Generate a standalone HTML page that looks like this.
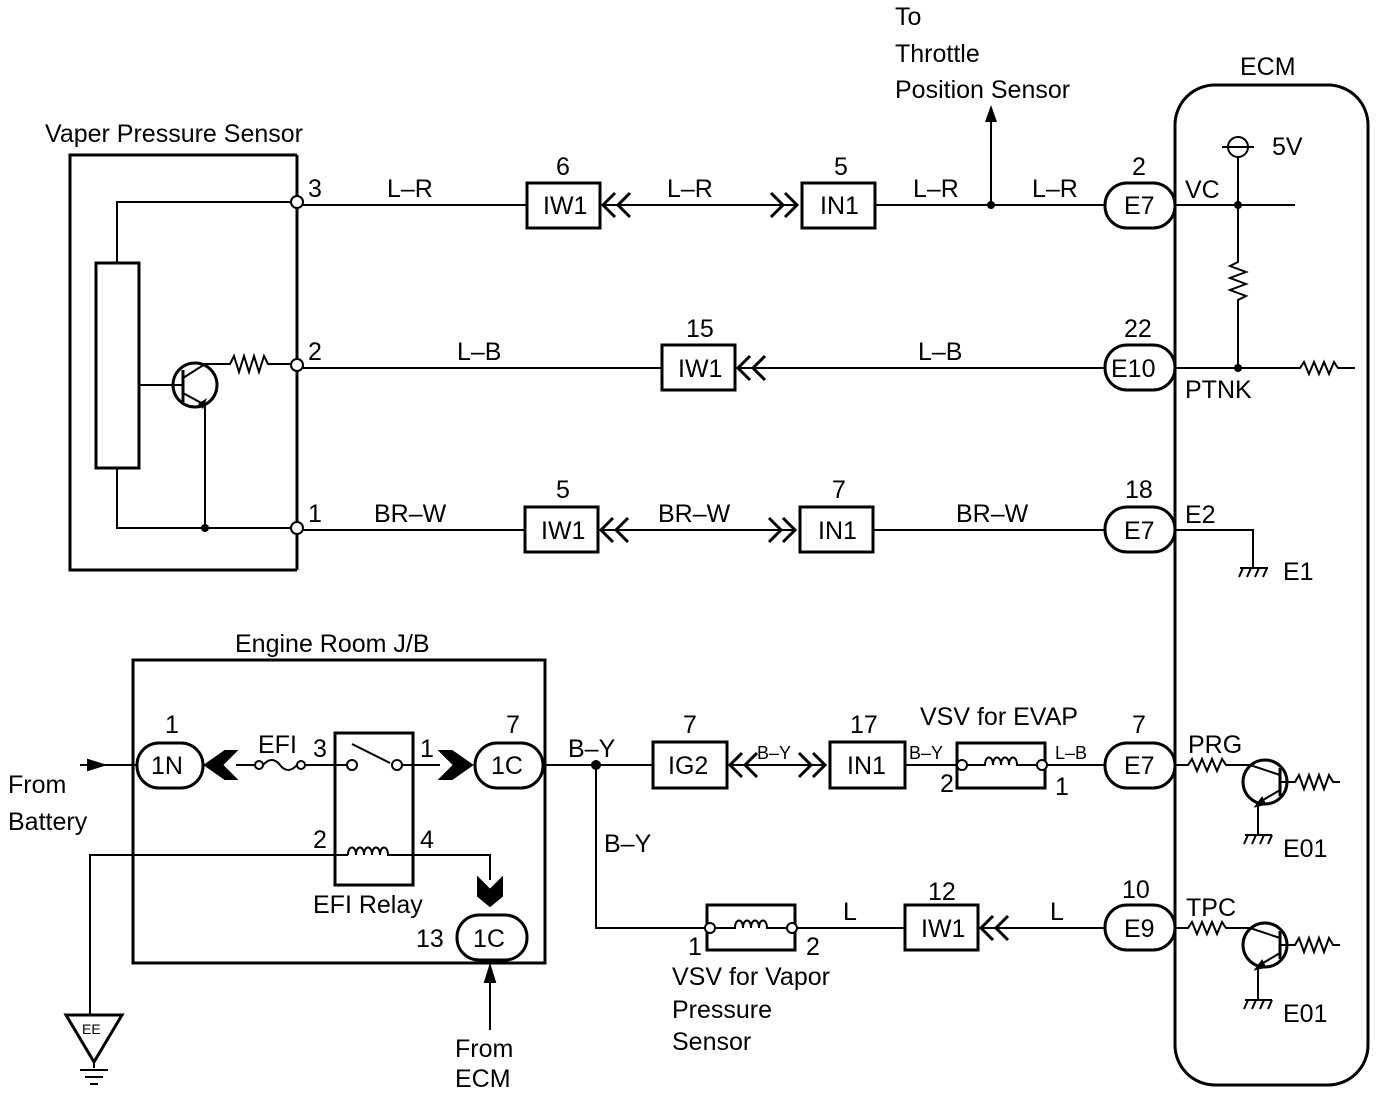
<!DOCTYPE html>
<html><head><meta charset="utf-8"><style>
html,body{margin:0;padding:0;background:#fff}
svg{display:block}
text{font-family:"Liberation Sans",Arial,sans-serif;font-size:25px;fill:#000}
</style></head><body>
<svg width="1392" height="1096" viewBox="0 0 1392 1096" xmlns="http://www.w3.org/2000/svg">
<g fill="none" stroke="#000" stroke-width="2">
<path d="M297,155 H70 V570 H297" stroke-width="3"/>
<line x1="297" y1="155" x2="297" y2="570" stroke-width="3"/>
<path d="M291,202 H117 V263"/>
<rect x="96" y="263" width="43" height="205" stroke-width="3"/>
<path d="M117,468 V528 H291"/>
<circle cx="195" cy="385" r="22" stroke-width="3"/>
<line x1="139" y1="385" x2="183" y2="385"/>
<line x1="183" y1="370" x2="183" y2="402" stroke-width="3"/>
<path d="M183,378 L205,364 H230 l4,-8 5,16 5,-16 5,16 5,-16 5,16 5,-16 4,8 H291"/>
<path d="M183,393 L205,405 V528"/>
<circle cx="297" cy="202" r="6" fill="#fff"/>
<circle cx="297" cy="365" r="6" fill="#fff"/>
<circle cx="297" cy="528" r="6" fill="#fff"/>
<line x1="303" y1="205" x2="527" y2="205"/>
<rect x="527" y="183" width="73" height="45" stroke-width="3"/>
<path d="M615,193 L603,205 L615,217 M630,193 L618,205 L630,217" stroke-width="3"/>
<line x1="603" y1="205" x2="798" y2="205"/>
<path d="M785,193 L797,205 L785,217 M771,193 L783,205 L771,217" stroke-width="3"/>
<rect x="802" y="183" width="73" height="45" stroke-width="3"/>
<line x1="875" y1="205" x2="1105" y2="205"/>
<line x1="991" y1="205" x2="991" y2="115"/>
<rect x="1105" y="183" width="70" height="45" rx="22" stroke-width="3"/>

<line x1="303" y1="368" x2="662" y2="368"/>
<rect x="662" y="345" width="73" height="45" stroke-width="3"/>
<path d="M750,356 L738,368 L750,380 M765,356 L753,368 L765,380" stroke-width="3"/>
<line x1="738" y1="368" x2="1105" y2="368"/>
<rect x="1105" y="345" width="70" height="45" rx="22" stroke-width="3"/>

<line x1="303" y1="530" x2="525" y2="530"/>
<rect x="525" y="507" width="73" height="45" stroke-width="3"/>
<path d="M613,518 L601,530 L613,542 M628,518 L616,530 L628,542" stroke-width="3"/>
<line x1="601" y1="530" x2="796" y2="530"/>
<path d="M783,518 L795,530 L783,542 M769,518 L781,530 L769,542" stroke-width="3"/>
<rect x="800" y="507" width="73" height="45" stroke-width="3"/>
<line x1="873" y1="530" x2="1105" y2="530"/>
<rect x="1105" y="507" width="70" height="45" rx="22" stroke-width="3"/>

<rect x="1175" y="85" width="193" height="1000" rx="40" stroke-width="3"/>
<line x1="1175" y1="205" x2="1295" y2="205"/>
<circle cx="1238" cy="147" r="10"/>
<line x1="1222" y1="147" x2="1254" y2="147"/>
<path d="M1238,157 V262 l-8,4 16,6 -16,6 16,6 -16,6 16,6 -8,4 V368"/>
<path d="M1175,368 H1300 l4,-6 5,12 5,-12 5,12 5,-12 5,12 5,-12 4,6 H1355"/>
<path d="M1175,530 H1253 V568"/>
<path d="M1240,568 H1268 M1243,568 l-4,9 M1251,568 l-4,9 M1259,568 l-4,9 M1267,568 l-4,9"/>

<rect x="133" y="660" width="412" height="303" stroke-width="3"/>
<line x1="80" y1="765" x2="137" y2="765"/>
<path d="M88,760 L104,765 L88,770 Z" fill="#000"/>
<rect x="137" y="743" width="66" height="45" rx="22" stroke-width="3"/>
<path d="M205,765 L225,751 H236 L222,765 L236,779 H225 Z" fill="#000"/>
<line x1="236" y1="765" x2="255" y2="765"/>
<circle cx="259" cy="765" r="4"/><circle cx="301" cy="765" r="4"/>
<path d="M263,765 Q272,755 280,765 Q288,775 297,765"/>
<line x1="305" y1="765" x2="348" y2="765"/>
<rect x="335" y="733" width="78" height="152" stroke-width="3"/>
<circle cx="352" cy="765" r="5"/><circle cx="397" cy="765" r="5"/>
<line x1="352" y1="744" x2="390" y2="763"/>
<line x1="402" y1="765" x2="440" y2="765"/>
<path d="M440,751 H452 L472,765 L452,779 H440 L454,765 Z" fill="#000"/>
<rect x="475" y="743" width="68" height="45" rx="22" stroke-width="3"/>
<line x1="543" y1="765" x2="653" y2="765"/>
<circle cx="596" cy="765" r="4" fill="#000"/>
<rect x="653" y="742" width="74" height="46" stroke-width="3"/>
<path d="M742,753 L730,765 L742,777 M757,753 L745,765 L757,777" stroke-width="3"/>
<line x1="730" y1="765" x2="826" y2="765"/>
<path d="M813,753 L825,765 L813,777 M799,753 L811,765 L799,777" stroke-width="3"/>
<rect x="830" y="742" width="75" height="46" stroke-width="3"/>
<line x1="905" y1="765" x2="956" y2="765"/>
<rect x="957" y="743" width="88" height="45" stroke-width="3"/>
<circle cx="962" cy="765" r="5" fill="#fff"/><circle cx="1042" cy="765" r="5" fill="#fff"/>
<path d="M967,765 H985 c0,-10 8,-10 8,0 c0,-10 8,-10 8,0 c0,-10 8,-10 8,0 c0,-10 8,-10 8,0 H1037"/>
<line x1="1047" y1="765" x2="1105" y2="765"/>
<rect x="1105" y="743" width="70" height="45" rx="22" stroke-width="3"/>
<path d="M1175,765 H1188 l4,-6 5,12 5,-12 5,12 5,-12 5,12 5,-12 4,6 H1250"/>
<circle cx="1265" cy="782" r="22" stroke-width="3"/>
<line x1="1280" y1="768" x2="1280" y2="796" stroke-width="3"/>
<line x1="1250" y1="765" x2="1280" y2="775"/>
<path d="M1280,782 H1295 l4,-7 5,14 5,-14 5,14 5,-14 5,14 5,-14 4,7 H1340"/>
<path d="M1280,790 L1258,803 V835"/>
<path d="M1256,806 l6,-8 l3,6 z" fill="#000"/>
<path d="M1245,835 H1272 M1248,835 l-4,9 M1256,835 l-4,9 M1264,835 l-4,9 M1272,835 l-4,9"/>
<path d="M90,1015 V855 H348"/>
<path d="M348,855 c0,-10 8,-10 8,0 c0,-10 8,-10 8,0 c0,-10 8,-10 8,0 c0,-10 8,-10 8,0 c0,-10 8,-10 8,0 H490 V880"/>
<path d="M478,878 L490,890 L502,878 V896 L490,906 L478,896 Z" fill="#000"/>
<rect x="457" y="915" width="70" height="45" rx="22" stroke-width="3"/>
<line x1="490" y1="965" x2="490" y2="1030"/>
<path d="M485,982 L490,966 L495,982 Z" fill="#000"/>
<path d="M66,1015 H122 L94,1062 Z" stroke-width="3"/>
<path d="M94,1062 V1068 M80,1070 H108 M85,1077 H103 M90,1084 H98"/>
<path d="M596,765 V928 H707"/>
<rect x="707" y="905" width="88" height="45" stroke-width="3"/>
<circle cx="710" cy="928" r="5" fill="#fff"/><circle cx="792" cy="928" r="5" fill="#fff"/>
<path d="M715,928 H735 c0,-10 8,-10 8,0 c0,-10 8,-10 8,0 c0,-10 8,-10 8,0 c0,-10 8,-10 8,0 H787"/>
<line x1="797" y1="928" x2="905" y2="928"/>
<rect x="905" y="905" width="73" height="45" stroke-width="3"/>
<path d="M993,916 L981,928 L993,940 M1008,916 L996,928 L1008,940" stroke-width="3"/>
<line x1="981" y1="928" x2="1105" y2="928"/>
<rect x="1105" y="905" width="70" height="45" rx="22" stroke-width="3"/>
<path d="M1175,928 H1188 l4,-6 5,12 5,-12 5,12 5,-12 5,12 5,-12 4,6 H1250"/>
<circle cx="1265" cy="945" r="22" stroke-width="3"/>
<line x1="1280" y1="931" x2="1280" y2="959" stroke-width="3"/>
<line x1="1250" y1="928" x2="1280" y2="938"/>
<path d="M1280,945 H1295 l4,-7 5,14 5,-14 5,14 5,-14 5,14 5,-14 4,7 H1340"/>
<path d="M1280,953 L1258,966 V1000"/>
<path d="M1256,969 l6,-8 l3,6 z" fill="#000"/>
<path d="M1245,1000 H1272 M1248,1000 l-4,9 M1256,1000 l-4,9 M1264,1000 l-4,9 M1272,1000 l-4,9"/>
</g>
<g fill="#000" stroke="none">
<circle cx="205" cy="528" r="4"/>
<circle cx="991" cy="205" r="4"/>
<circle cx="1238" cy="205" r="4"/>
<circle cx="1238" cy="368" r="4"/>
<path d="M991,105 L985,122 L997,122 Z"/>
<path d="M198,404 L207,398 L203,409 Z"/>
</g>
<text x="45" y="142">Vaper Pressure Sensor</text>
<text x="895" y="25">To</text>
<text x="895" y="62">Throttle</text>
<text x="895" y="98">Position Sensor</text>
<text x="1240" y="75">ECM</text>
<text x="308" y="197">3</text><text x="308" y="360">2</text><text x="308" y="522">1</text>
<text x="387" y="197">L–R</text><text x="667" y="197">L–R</text><text x="913" y="197">L–R</text><text x="1032" y="197">L–R</text>
<text x="556" y="175">6</text><text x="834" y="175">5</text><text x="1132" y="175">2</text>
<text x="543" y="214">IW1</text><text x="820" y="214">IN1</text><text x="1124" y="214">E7</text>
<text x="1185" y="198">VC</text><text x="1272" y="155">5V</text>
<text x="457" y="360">L–B</text><text x="918" y="360">L–B</text>
<text x="686" y="337">15</text><text x="1124" y="337">22</text>
<text x="678" y="377">IW1</text><text x="1111" y="377">E10</text>
<text x="1185" y="398">PTNK</text>
<text x="374" y="522">BR–W</text><text x="658" y="522">BR–W</text><text x="956" y="522">BR–W</text>
<text x="556" y="498">5</text><text x="832" y="498">7</text><text x="1125" y="498">18</text>
<text x="541" y="539">IW1</text><text x="818" y="539">IN1</text><text x="1124" y="539">E7</text>
<text x="1185" y="523">E2</text><text x="1283" y="580">E1</text>
<text x="235" y="652">Engine Room J/B</text>
<text x="8" y="793">From</text><text x="8" y="830">Battery</text>
<text x="165" y="733">1</text><text x="151" y="774">1N</text>
<text x="258" y="753">EFI</text>
<text x="313" y="757">3</text><text x="420" y="757">1</text>
<text x="506" y="733">7</text><text x="491" y="774">1C</text>
<text x="313" y="848">2</text><text x="420" y="848">4</text>
<text x="313" y="913">EFI Relay</text>
<text x="416" y="947">13</text><text x="473" y="947">1C</text>
<text x="455" y="1057">From</text><text x="455" y="1087">ECM</text>
<text x="568" y="757">B–Y</text>
<text x="683" y="733">7</text><text x="668" y="774">IG2</text>
<text x="757" y="759" style="font-size:18px">B–Y</text>
<text x="850" y="733">17</text><text x="847" y="774">IN1</text>
<text x="909" y="759" style="font-size:18px">B–Y</text>
<text x="920" y="725">VSV for EVAP</text>
<text x="940" y="792">2</text><text x="1055" y="795">1</text>
<text x="1055" y="759" style="font-size:18px">L–B</text>
<text x="1132" y="733">7</text><text x="1124" y="774">E7</text>
<text x="1188" y="753">PRG</text>
<text x="1283" y="857">E01</text>
<text x="604" y="852">B–Y</text>
<text x="688" y="955">1</text><text x="806" y="955">2</text>
<text x="672" y="985">VSV for Vapor</text><text x="672" y="1018">Pressure</text><text x="672" y="1050">Sensor</text>
<text x="843" y="920">L</text><text x="1050" y="920">L</text>
<text x="928" y="900">12</text><text x="921" y="937">IW1</text>
<text x="1122" y="898">10</text><text x="1124" y="937">E9</text>
<text x="1186" y="916">TPC</text>
<text x="1283" y="1022">E01</text>
<text x="82" y="1034" style="font-size:14px">EE</text>
</svg>
</body></html>
